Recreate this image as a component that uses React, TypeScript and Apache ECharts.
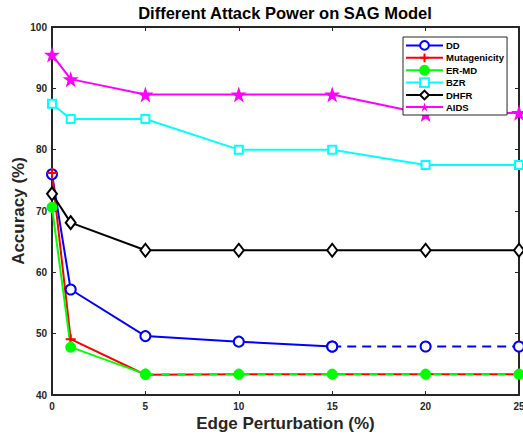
import React, { useEffect, useRef } from "react";
import * as echarts from "echarts";

const xValues = [0, 1, 5, 10, 15, 20, 25];
const ddValues = [76.0, 57.2, 49.6, 48.7, 47.9, 47.9, 47.9];
const mutValues = [76.2, 49.1, 43.3, 43.4, 43.4, 43.4, 43.4];
const ermdValues = [70.6, 47.8, 43.4, 43.4, 43.4, 43.4, 43.4];
const bzrValues = [87.5, 85.0, 85.0, 80.0, 80.0, 77.5, 77.5];
const dhfrValues = [72.8, 68.1, 63.6, 63.6, 63.6, 63.6, 63.6];
const aidsValues = [95.5, 91.5, 89.0, 89.0, 89.0, 85.8, 86.0];
const legendNames = ["DD", "Mutagenicity", "ER-MD", "BZR", "DHFR", "AIDS"];
const titleText = "Different Attack Power on SAG Model";
const xName = "Edge Perturbation (%)";
const yName = "Accuracy (%)";

function pts(ys: number[], from: number, to: number) {
  return xValues.slice(from, to).map((x, i) => [x, ys[from + i]]);
}

function starPath() {
  const p: string[] = [];
  for (let i = 0; i < 10; i++) {
    const r = i % 2 === 0 ? 10 : 3.9;
    const a = -Math.PI / 2 + (i * Math.PI) / 5;
    p.push((i === 0 ? "M" : "L") + (r * Math.cos(a)).toFixed(3) + "," + (r * Math.sin(a)).toFixed(3));
  }
  return "path://" + p.join("") + "Z";
}

const FONT = "Arial, 'Liberation Sans', Helvetica, sans-serif";
const AX = "#262626";

export default function App() {
  const ref = useRef<HTMLDivElement>(null);
  useEffect(() => {
    if (!ref.current) return;
    const chart = echarts.init(ref.current, null, { renderer: "svg" });
    const star = starPath();
    const plus = "path://M5,0L5,10M0,5L10,5";
    const lw = 2;
    const mk = (
      name: string,
      data: number[][],
      color: string,
      symbol: string,
      size: number | number[],
      dashed: boolean,
      extra: any = {}
    ) => ({
      type: "line",
      name,
      data,
      symbol,
      symbolSize: size,
      showSymbol: true,
      lineStyle: { color, width: lw, type: dashed ? [9, 6] : "solid" },
      itemStyle: { color, borderColor: color, borderWidth: 2 },
      emphasis: { disabled: true },
      ...extra,
    });
    const option: any = {
      animation: false,
      backgroundColor: "#ffffff",
      textStyle: { fontFamily: FONT },
      graphic: [
        {
          type: "text",
          x: 285,
          y: 4,
          style: {
            text: titleText,
            font: "bold 16.5px " + FONT,
            fill: "#000",
            textAlign: "center",
            textVerticalAlign: "top",
          },
        },
      ],
      grid: { left: 52, right: 4, top: 27, bottom: 44, containLabel: false, outerBoundsMode: "none" },
      legend: {
        data: legendNames,
        orient: "vertical",
        left: 403,
        top: 37,
        padding: [3, 3, 3, 2],
        itemWidth: 37,
        itemHeight: 11,
        itemGap: 1.6,
        backgroundColor: "#ffffff",
        borderColor: "#262626",
        borderWidth: 1,
        textStyle: { fontFamily: FONT, fontWeight: "bold", fontSize: 9.5, color: "#000", padding: [0, 0, 0, -2] },
        z: 10,
      },
      xAxis: [
        {
          type: "value",
          min: 0,
          max: 25,
          interval: 5,
          name: xName,
          nameLocation: "middle",
          nameGap: 20,
          nameMoveOverlap: false,
          nameTextStyle: { fontFamily: FONT, fontWeight: "bold", fontSize: 17, color: AX },
          axisLine: { show: true, onZero: false, lineStyle: { color: AX, width: 2 } },
          axisTick: { show: true, inside: true, length: 4, lineStyle: { color: AX, width: 1 } },
          axisLabel: { fontFamily: FONT, fontWeight: "bold", fontSize: 10, color: AX, margin: 6 },
          splitLine: { show: false },
        },
        {
          type: "value",
          min: 0,
          max: 25,
          interval: 5,
          position: "top",
          axisLine: { show: true, onZero: false, lineStyle: { color: AX, width: 2 } },
          axisTick: { show: true, inside: true, length: 4, lineStyle: { color: AX, width: 1 } },
          axisLabel: { show: false },
          splitLine: { show: false },
        },
      ],
      yAxis: [
        {
          type: "value",
          min: 40,
          max: 100,
          interval: 10,
          name: yName,
          nameLocation: "middle",
          nameGap: 25,
          nameMoveOverlap: false,
          nameTextStyle: { fontFamily: FONT, fontWeight: "bold", fontSize: 17, color: AX },
          axisLine: { show: true, onZero: false, lineStyle: { color: AX, width: 2 } },
          axisTick: { show: true, inside: true, length: 4, lineStyle: { color: AX, width: 1 } },
          axisLabel: { fontFamily: FONT, fontWeight: "bold", fontSize: 10, color: AX, margin: 5 },
          splitLine: { show: false },
        },
        {
          type: "value",
          min: 40,
          max: 100,
          interval: 10,
          position: "right",
          axisLine: { show: true, onZero: false, lineStyle: { color: AX, width: 2 } },
          axisTick: { show: true, inside: true, length: 4, lineStyle: { color: AX, width: 1 } },
          axisLabel: { show: false },
          splitLine: { show: false },
        },
      ],
      series: [
        mk("DD", pts(ddValues, 0, 5), "#0000ff", "emptyCircle", 10, false),
        mk("DD_dash", pts(ddValues, 4, 7), "#0000ff", "emptyCircle", 10, true),
        mk("Mutagenicity", pts(mutValues, 0, 7), "#ff0000", plus, 10, false),
        mk("ER-MD", pts(ermdValues, 0, 3), "#00ff00", "circle", 9, false),
        mk("ER-MD_dash", pts(ermdValues, 2, 7), "#00ff00", "circle", 9, true, {
          lineStyle: { color: "#00ff00", width: lw, type: [8, 8] },
        }),
        mk("BZR", pts(bzrValues, 0, 7), "#00ffff", "emptyRect", 8, false),
        mk("DHFR", pts(dhfrValues, 0, 7), "#000000", "emptyDiamond", [10, 13], false),
        mk("AIDS", pts(aidsValues, 0, 7), "#ff00ff", star, 16, false, {
          itemStyle: { color: "#ff00ff", borderColor: "#ff00ff", borderWidth: 0 },
        }),
      ],
    };
    chart.setOption(option);
    return () => chart.dispose();
  }, []);
  return (
    <div
      ref={ref}
      style={{ position: "absolute", left: 0, top: 0, width: 523, height: 439 }}
    />
  );
}
